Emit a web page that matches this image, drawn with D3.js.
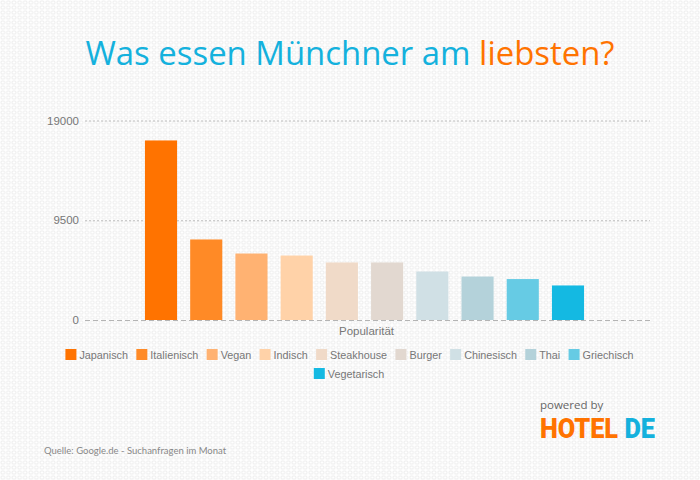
<!DOCTYPE html>
<html>
<head>
<meta charset="utf-8">
<script src="https://cdn.jsdelivr.net/npm/d3@7"></script>
<style>
html, body { margin: 0; padding: 0; background: #fff; }
svg { display: block; }
</style>
</head>
<body>
<div id="chart"></div>
<script>
var categories = ["Japanisch", "Italienisch", "Vegan", "Indisch", "Steakhouse", "Burger", "Chinesisch", "Thai", "Griechisch", "Vegetarisch"];
var values = [17100, 7670, 6330, 6140, 5480, 5480, 4620, 4140, 3900, 3290];
var colors = ["#ff7300", "#ff8a26", "#ffb272", "#ffd2a8", "#f0dac8", "#e2d8d0", "#d0e0e5", "#b4d2da", "#66cbe4", "#14b9e2"];
var yTicks = [0, 9500, 19000];

var svg = d3.select("#chart").append("svg").attr("width", 700).attr("height", 480);
var defs = svg.append("defs");

// background texture of tiny rounded cells
var pat = defs.append("pattern").attr("id", "tex").attr("patternUnits", "userSpaceOnUse")
    .attr("width", 5.6).attr("height", 5);
pat.append("rect").attr("width", 5.6).attr("height", 5).attr("fill", "#fff");
pat.append("rect").attr("x", 1).attr("y", 1).attr("width", 3.6).attr("height", 3).attr("rx", 1.1)
    .attr("fill", "none").attr("stroke", "#eeeeee").attr("stroke-width", 1);
svg.append("rect").attr("width", 700).attr("height", 480).attr("fill", "url(#tex)");

var y = d3.scaleLinear().domain([0, 19000]).range([320, 120.5]);
var x = d3.scaleBand().domain(categories).range([138.4, 590.6]).paddingInner(0.29).paddingOuter(0.145);

// title
var title = svg.append("text").attr("x", 350).attr("y", 65).attr("text-anchor", "middle")
    .style("font-family", "'Open Sans', sans-serif").style("font-size", "32.9px");
title.append("tspan").attr("fill", "#14b1dd").text("Was essen Münchner am ");
title.append("tspan").attr("fill", "#ff7300").text("liebsten?");

// grid and y axis
var axis = svg.append("g").attr("transform", "translate(85,0)")
    .call(d3.axisLeft(y).tickValues(yTicks).tickSize(-565).tickPadding(6).tickFormat(d3.format("d")));
axis.select(".domain").remove();
axis.selectAll("line").attr("stroke", "#bdbdbd").attr("stroke-dasharray", "2,2");
axis.selectAll("line").filter(function(d) { return d == 0; }).attr("stroke", "#b4b4b4").attr("stroke-dasharray", "5,3");
axis.selectAll("text").attr("fill", "#777").style("font-family", "'Liberation Sans', sans-serif").style("font-size", "11.5px");

// bars
svg.selectAll("rect.bar").data(categories).enter().append("rect")
    .attr("class", "bar")
    .attr("x", function(d) { return x(d); })
    .attr("width", x.bandwidth())
    .attr("y", function(d, i) { return y(values[i]); })
    .attr("height", function(d, i) { return y(0) - y(values[i]); })
    .attr("fill", function(d, i) { return colors[i]; });

svg.append("text").attr("x", 366.5).attr("y", 335).attr("text-anchor", "middle")
    .attr("fill", "#777").style("font-family", "'Liberation Sans', sans-serif").style("font-size", "11.5px")
    .text("Popularität");

// legend, flowed by text width and centred; last entry wraps
var legend = svg.selectAll("g.leg").data(categories).enter().append("g").attr("class", "leg");
legend.append("rect").attr("width", 11).attr("height", 11)
    .attr("fill", function(d, i) { return colors[i]; });
legend.append("text").attr("x", 14).attr("y", 9.5).attr("fill", "#777")
    .style("font-family", "'Liberation Sans', sans-serif").style("font-size", "10.8px")
    .text(function(d) { return d; });

var widths = [];
legend.select("text").each(function() { widths.push(14 + this.getComputedTextLength()); });
var gap = 8.3;
var row1 = d3.sum(widths.slice(0, 9)) + gap * 8;
var lx = 349.5 - row1 / 2;
legend.attr("transform", function(d, i) {
    if (i == 9) return "translate(" + (349 - widths[9] / 2) + ",368)";
    var t = "translate(" + lx + ",349)";
    lx += widths[i] + gap;
    return t;
});

// logo and source
svg.append("text").attr("x", 540).attr("y", 408.5).attr("fill", "#666")
    .style("font-family", "'Open Sans', sans-serif").style("font-size", "11.5px").text("powered by");
var logo = svg.append("text")
    .style("font-family", "'Roboto', sans-serif").style("font-weight", "900").style("font-size", "28px");
logo.append("tspan").attr("fill", "#ff7300").text("HOTEL ");
logo.append("tspan").attr("fill", "#14b1dd").text("DE");
// squeeze the logo to its condensed width
logo.attr("transform", "translate(540,438) scale(" + (115 / logo.node().getComputedTextLength()) + ",1)");
svg.append("text").attr("x", 44).attr("y", 454).attr("fill", "#888")
    .style("font-family", "Lato, sans-serif").style("font-size", "9.5px")
    .text("Quelle: Google.de - Suchanfragen im Monat");
</script>
</body>
</html>
